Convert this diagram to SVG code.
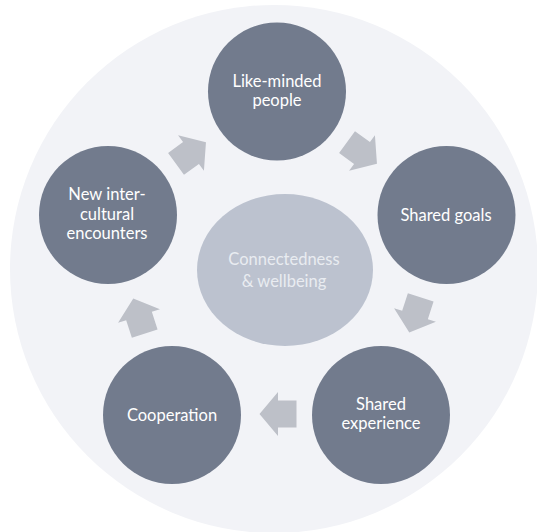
<svg xmlns="http://www.w3.org/2000/svg" width="537" height="532" viewBox="0 0 537 532">
  <style>
    .node { fill: #727b8d; }
    .label { fill: #ffffff; font-family: Lato, "Open Sans", sans-serif; font-size: 16.5px; text-anchor: middle; }
    .hub { fill: #bcc2cf; }
    .hub-label { fill: #e9ecf1; font-family: Lato, "Open Sans", sans-serif; font-size: 16.5px; text-anchor: middle; }
    .flow { fill: #bdc0c8; }
  </style>
  <defs>
    <!-- block arrow pointing along +x, centred on the origin -->
    <polygon id="block-arrow" points="-18.5,-13.5 0,-13.5 0,-22 18.5,0 0,22 0,13.5 -18.5,13.5"/>
  </defs>

  <rect width="537" height="532" fill="#ffffff"/>
  <circle id="backdrop" cx="274" cy="269" r="264" fill="#f2f3f7"/>

  <g id="hub">
    <ellipse class="hub" cx="285" cy="270" rx="88" ry="76"/>
    <text class="hub-label" x="284" y="265">Connectedness</text>
    <text class="hub-label" x="284" y="286.5">&amp; wellbeing</text>
  </g>

  <g id="connectors">
    <use href="#block-arrow" class="flow" transform="translate(362,153) rotate(36)"/>
    <use href="#block-arrow" class="flow" transform="translate(415,315) rotate(108)"/>
    <use href="#block-arrow" class="flow" transform="translate(278,414) rotate(180)"/>
    <use href="#block-arrow" class="flow" transform="translate(139,316) rotate(252)"/>
    <use href="#block-arrow" class="flow" transform="translate(191,153) rotate(324)"/>
  </g>

  <g id="like-minded-people">
    <circle class="node" cx="277" cy="91.5" r="69"/>
    <text class="label" x="277" y="87">Like-minded</text>
    <text class="label" x="277" y="106">people</text>
  </g>

  <g id="shared-goals">
    <circle class="node" cx="446.5" cy="215" r="69"/>
    <text class="label" x="446" y="220.5">Shared goals</text>
  </g>

  <g id="shared-experience">
    <circle class="node" cx="381" cy="415" r="69"/>
    <text class="label" x="381" y="410">Shared</text>
    <text class="label" x="381" y="429">experience</text>
  </g>

  <g id="cooperation">
    <circle class="node" cx="172" cy="415" r="69"/>
    <text class="label" x="172" y="420.5">Cooperation</text>
  </g>

  <g id="new-intercultural-encounters">
    <circle class="node" cx="108" cy="215" r="69"/>
    <text class="label" x="107" y="200">New inter-</text>
    <text class="label" x="107" y="219.5">cultural</text>
    <text class="label" x="107" y="239">encounters</text>
  </g>
</svg>
